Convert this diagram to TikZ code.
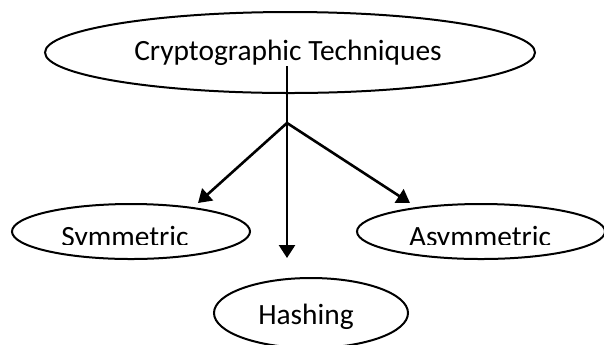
\documentclass[tikz,border=0pt]{standalone}
\usepackage{fontspec}
\setmainfont{Carlito}
\usetikzlibrary{shapes.geometric,arrows.meta}
\begin{document}
\begin{tikzpicture}[x=0.5pt,y=-0.5pt,
  oval/.style={draw=black,line width=1pt,ellipse,inner sep=0pt},
  txt/.style={inner sep=0pt,anchor=base,font=\fontsize{14.7}{17}\selectfont},
  arr/.style={draw=black,line width=1.3pt,-{Triangle[length=6.5pt,width=8pt]}}]
\useasboundingbox (0,0) rectangle (604,344);
\clip (0,0) rectangle (604,344);
\fill[white] (0,0) rectangle (604,344);
% ellipses
\node[oval,minimum width=245pt,minimum height=40.5pt] (top) at (290,52.5) {};
\node[oval,minimum width=119pt,minimum height=27.5pt] (sym) at (131,231.5) {};
\node[oval,minimum width=124pt,minimum height=27.5pt] (asym) at (481,231.5) {};
\node[oval,minimum width=97pt,minimum height=35pt] (hash) at (311,313) {};
% texts
\node[txt] (topt) at (288,60) {Cryptographic Techniques};
\node[txt] (hasht) at (306,324.5) {Hashing};
\begin{scope}
\clip (0,0) rectangle (604,244.5);
\node[txt] (symt) at (125,246.5) {Symmetric};
\node[txt] (asymt) at (480,246.5) {Asymmetric};
\end{scope}
% connectors
\coordinate (start) at (287,66);
\coordinate (branch) at (287,123);
\coordinate (hend) at (287,258);
\coordinate (send) at (198,203);
\coordinate (aend) at (410,203);
\draw[arr] (start) -- (hend);
\draw[arr] (branch) -- (send);
\draw[arr] (branch) -- (aend);
\end{tikzpicture}
\end{document}
